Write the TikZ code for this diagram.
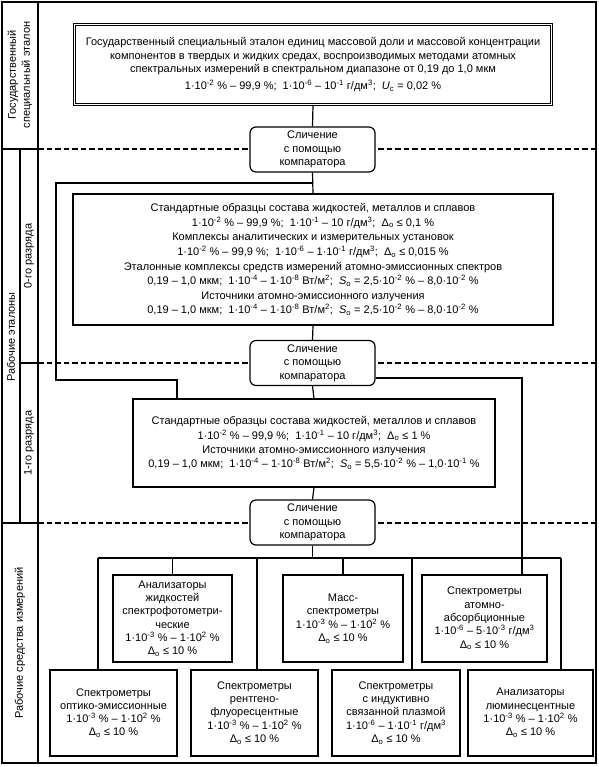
\documentclass[tikz,border=0pt]{standalone}
\usepackage{fontspec}
\setmainfont{Liberation Sans}
\newcommand\myup[1]{\textsuperscript{#1}}
\newcommand\mydn[1]{\textsubscript{#1}}
\begin{document}
\begin{tikzpicture}[x=1pt,y=-1pt,
  every node/.style={font=\fontsize{11}{14}\selectfont},
  box/.style={draw, line width=1.2pt, align=center, inner sep=0pt, fill=white},
  cmp/.style={box, rounded corners=6pt, minimum width=125pt, minimum height=45pt, font=\fontsize{11}{13.5}\selectfont},
  ln/.style={line width=1.2pt},
  dsh/.style={line width=1.2pt, dash pattern=on 5.5pt off 3pt},
  lab/.style={rotate=90, align=center, inner sep=0pt, font=\fontsize{11}{14}\selectfont},
  small/.style={font=\fontsize{11}{13.3}\selectfont}]
\useasboundingbox (0,0) rectangle (598,767);
% frame and dividers
\draw[ln] (2,2) rectangle (596,763);
\draw[ln] (38,2) -- (38,763);
\draw[ln] (20,149) -- (20,523);
\draw[ln] (2,149) -- (38,149);
\draw[ln] (20,363) -- (38,363);
\draw[ln] (2,523) -- (38,523);
\draw[dsh] (38,149) -- (596,149);
\draw[dsh] (38,363) -- (596,363);
\draw[dsh] (38,523) -- (596,523);
% left labels
\node[lab] (lg) at (20,75) {Государственный\\специальный эталон};
\node[lab] (lre) at (11,337) {Рабочие эталоны};
\node[lab] (l0) at (29,256) {0-го разряда};
\node[lab] (l1) at (29,443) {1-го разряда};
\node[lab] (lsi) at (20,643) {Рабочие средства измерений};
% main boxes
\node[box, line width=1pt, double=white, double distance=1.6pt, minimum width=477pt, minimum height=80pt, font=\fontsize{11}{13.8}\selectfont] (top) at (313,64.5)
 {Государственный специальный эталон единиц массовой доли и массовой концентрации\\
  компонентов в твердых и жидких средах, воспроизводимых методами атомных\\
  спектральных измерений в спектральном диапазоне от 0,19 до 1,0 мкм\\[3pt]
  1·10\myup{-2} \% – 99,9 \%;\ \ 1·10\myup{-6} – 10\myup{-1} г/дм\myup{3};\ \ \textit{U}\mydn{c} = 0,02 \%};
\node[cmp] (c1) at (312.5,149.5) {Сличение\\с помощью\\компаратора};
\node[box, minimum width=480pt, minimum height=131pt, font=\fontsize{11}{14.6}\selectfont] (b0) at (313,259.5)
 {Стандартные образцы состава жидкостей, металлов и сплавов\\
  1·10\myup{-2} \% – 99,9 \%;\ \ 1·10\myup{-1} – 10 г/дм\myup{3};\ \ Δ\mydn{о} ≤ 0,1 \%\\
  Комплексы аналитических и измерительных установок\\
  1·10\myup{-2} \% – 99,9 \%;\ \ 1·10\myup{-6} – 1·10\myup{-1} г/дм\myup{3};\ \ Δ\mydn{о} ≤ 0,015 \%\\
  Эталонные комплексы средств измерений атомно-эмиссионных спектров\\
  0,19 – 1,0 мкм;\ \ 1·10\myup{-4} – 1·10\myup{-8} Вт/м\myup{2};\ \ \textit{S}\mydn{о} = 2,5·10\myup{-2} \% – 8,0·10\myup{-2} \%\\
  Источники атомно-эмиссионного излучения\\
  0,19 – 1,0 мкм;\ \ 1·10\myup{-4} – 1·10\myup{-8} Вт/м\myup{2};\ \ \textit{S}\mydn{о} = 2,5·10\myup{-2} \% – 8,0·10\myup{-2} \%};
\node[cmp] (c2) at (312.5,363) {Сличение\\с помощью\\компаратора};
\node[box, minimum width=362pt, minimum height=88pt, font=\fontsize{11}{14.3}\selectfont] (b1) at (314,443)
 {Стандартные образцы состава жидкостей, металлов и сплавов\\
  1·10\myup{-2} \% – 99,9 \%;\ \ 1·10\myup{-1} – 10 г/дм\myup{3};\ \ Δ\mydn{о} ≤ 1 \%\\
  Источники атомно-эмиссионного излучения\\
  0,19 – 1,0 мкм;\ \ 1·10\myup{-4} – 1·10\myup{-8} Вт/м\myup{2};\ \ \textit{S}\mydn{о} = 5,5·10\myup{-2} \% – 1,0·10\myup{-1} \%};
\node[cmp] (c3) at (312.5,522.5) {Сличение\\с помощью\\компаратора};
% upper row
\node[box, small, minimum width=119pt, minimum height=87pt] (an) at (172.5,618.5)
 {Анализаторы\\жидкостей\\спектрофотометри-\\ческие\\1·10\myup{-3} \% – 1·10\myup{2} \%\\Δ\mydn{о} ≤ 10 \%};
\node[box, small, minimum width=120pt, minimum height=87pt] (ms) at (343,618.5)
 {Масс-\\спектрометры\\1·10\myup{-3} \% – 1·10\myup{2} \%\\Δ\mydn{о} ≤ 10 \%};
\node[box, small, minimum width=125pt, minimum height=87pt] (aa) at (484.5,618.5)
 {Спектрометры\\атомно-\\абсорбционные\\1·10\myup{-6} – 5·10\myup{-3} г/дм\myup{3}\\Δ\mydn{о} ≤ 10 \%};
% bottom row
\node[box, small, minimum width=127pt, minimum height=86pt] (op) at (113.5,713)
 {Спектрометры\\оптико-эмиссионные\\1·10\myup{-3} \% – 1·10\myup{2} \%\\Δ\mydn{о} ≤ 10 \%};
\node[box, small, minimum width=127pt, minimum height=86pt] (xr) at (254.5,713)
 {Спектрометры\\рентгено-\\флуоресцентные\\1·10\myup{-3} \% – 1·10\myup{2} \%\\Δ\mydn{о} ≤ 10 \%};
\node[box, small, minimum width=128pt, minimum height=86pt] (icp) at (396,713)
 {Спектрометры\\с индуктивно\\связанной плазмой\\1·10\myup{-6} – 1·10\myup{-1} г/дм\myup{3}\\Δ\mydn{о} ≤ 10 \%};
\node[box, small, minimum width=125pt, minimum height=86pt] (lu) at (530.5,713)
 {Анализаторы\\люминесцентные\\1·10\myup{-3} \% – 1·10\myup{2} \%\\Δ\mydn{о} ≤ 10 \%};
% connectors
\coordinate (j1) at (312.5,183);
\coordinate (j2) at (56,183);
\coordinate (j3) at (56,380);
\coordinate (j4) at (177,380);
\coordinate (r1) at (522,378);
\coordinate (bl) at (98,558);
\coordinate (br) at (561,558);
\coordinate (v2) at (257,558);
\coordinate (v3) at (412,558);
\draw[ln] (top.south) -- (c1.north);
\draw[ln] (c1.south) -- (b0.north);
\draw[ln] (j1) -- (j2) -- (j3) -- (j4) -- (b1.north -| j4);
\draw[ln] (b0.south) -- (c2.north);
\draw[ln] (c2.south) -- (b1.north);
\draw[ln] ([yshift=-15pt]c2.east) -- (r1) -- (aa.north -| r1);
\draw[ln] (b1.south) -- (c3.north);
\draw[ln] (c3.south) -- (c3.south |- bl);
\draw[ln] (bl) -- (br);
\draw[ln] (bl) -- (op.north -| bl);
\draw[ln] (v2) -- (xr.north -| v2);
\draw[ln] (v3) -- (icp.north -| v3);
\draw[ln] (br) -- (lu.north -| br);
\draw[ln] (an.north) -- (an.north |- bl);
\draw[ln] (ms.north) -- (ms.north |- bl);
\end{tikzpicture}
\end{document}
